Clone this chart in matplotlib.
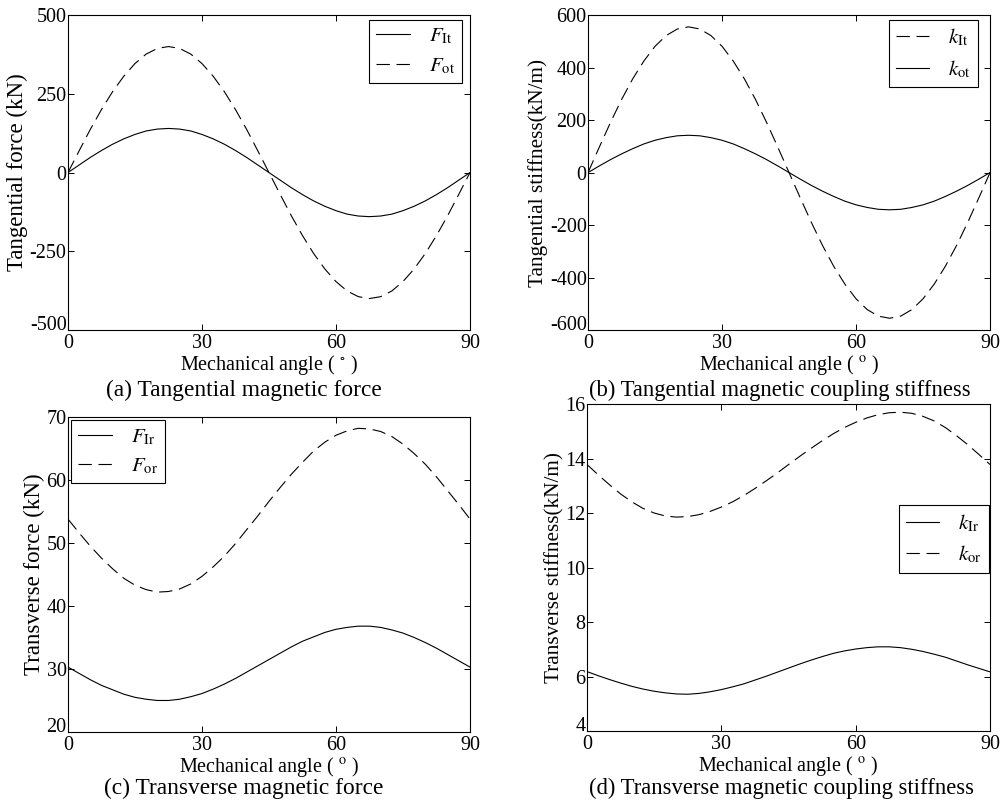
import matplotlib.pyplot as plt
import matplotlib.transforms as mtransforms
import numpy as np

plt.rcParams['font.family'] = ['Liberation Serif', 'DejaVu Serif']
plt.rcParams['mathtext.fontset'] = 'stix'
plt.rcParams['axes.unicode_minus'] = False

# mechanical angle samples (deg), every 2.5 deg
angle = np.arange(0, 90.1, 2.5)

# (a) tangential magnetic force, kN
F_It = [0, 24, 48, 70, 90, 107, 121, 132, 138, 140, 138, 132, 121, 107, 90, 70, 48, 24, 0,
        -24, -48, -70, -90, -107, -121, -132, -138, -140, -138, -132, -121, -107, -90, -70, -48, -24, 0]
F_ot = [0, 69, 137, 200, 257, 306, 346, 376, 394, 400, 394, 376, 346, 306, 257, 200, 137, 69, 0,
        -69, -137, -200, -257, -306, -346, -376, -394, -400, -394, -376, -346, -306, -257, -200, -137, -69, 0]

# (b) tangential magnetic coupling stiffness, kN/m
k_It = [0, 96, 190, 278, 357, 425, 481, 522, 547, 555, 547, 522, 481, 425, 357, 278, 190, 96, 0,
        -96, -190, -278, -357, -425, -481, -522, -547, -555, -547, -522, -481, -425, -357, -278, -190, -96, 0]
k_ot = [0, 25, 49, 71, 91, 109, 123, 133, 140, 142, 140, 133, 123, 109, 91, 71, 49, 25, 0,
        -25, -49, -71, -91, -109, -123, -133, -140, -142, -140, -133, -123, -109, -91, -71, -49, -25, 0]

# (c) transverse magnetic force, kN
F_Ir = [30.3, 29.3, 28.3, 27.4, 26.7, 26.0, 25.5, 25.2, 25.0, 25.0, 25.2, 25.6, 26.1, 26.8, 27.6, 28.5,
        29.5, 30.5, 31.5, 32.5, 33.5, 34.4, 35.1, 35.8, 36.3, 36.6, 36.8, 36.8, 36.6, 36.2, 35.7, 35.0,
        34.2, 33.3, 32.3, 31.3, 30.3]
F_or = [53.8, 51.6, 49.5, 47.6, 45.9, 44.4, 43.3, 42.6, 42.2, 42.3, 42.7, 43.5, 44.7, 46.2, 47.9, 49.9,
        52.1, 54.3, 56.6, 58.8, 60.9, 62.8, 64.6, 66.0, 67.1, 67.8, 68.2, 68.1, 67.7, 66.9, 65.7, 64.2,
        62.5, 60.5, 58.3, 56.1, 53.8]

# (d) transverse magnetic coupling stiffness, kN/m
k_Ir = [6.18, 6.03, 5.89, 5.76, 5.64, 5.54, 5.46, 5.40, 5.36, 5.35, 5.38, 5.44, 5.52, 5.62, 5.73, 5.87,
        6.01, 6.16, 6.31, 6.46, 6.60, 6.73, 6.85, 6.94, 7.01, 7.06, 7.09, 7.09, 7.06, 7.00, 6.92, 6.82,
        6.71, 6.57, 6.43, 6.30, 6.17]
k_or = [13.78, 13.40, 13.04, 12.70, 12.41, 12.17, 12.00, 11.89, 11.85, 11.87, 11.94, 12.06, 12.22,
        12.41, 12.64, 12.90, 13.18, 13.47, 13.78, 14.08, 14.37, 14.65, 14.91, 15.14, 15.33, 15.49,
        15.61, 15.68, 15.70, 15.66, 15.55, 15.38, 15.14, 14.84, 14.51, 14.15, 13.78]

dash = (0, (12, 6))
lw = 0.8

fig = plt.figure(figsize=(10.04, 8.05), dpi=100)
ax_a = fig.add_axes([0.0677, 0.590, 0.4004, 0.3913])
ax_b = fig.add_axes([0.5857, 0.590, 0.4004, 0.3913])
ax_c = fig.add_axes([0.0677, 0.0907, 0.4004, 0.3913])
ax_d = fig.add_axes([0.5847, 0.0919, 0.4014, 0.4062])

# small upward nudge for the lowest y tick label so it clears the x "0"
nudge = mtransforms.ScaledTranslation(0, 5 / 72, fig.dpi_scale_trans)


def style(ax, yticks, ylabel, ysize, deg):
    ax.set_xlim(0, 90)
    ax.set_xticks([0, 30, 60, 90])
    ax.set_ylim(yticks[0], yticks[-1])
    ax.set_yticks(yticks)
    ax.tick_params(direction='in', top=True, right=True, length=4, width=0.7, labelsize=14.5, pad=1)
    ax.tick_params(axis='x', pad=3)
    for s in ax.spines.values():
        s.set_linewidth(0.8)
    ax.set_ylabel(ylabel, fontsize=ysize, labelpad=1)
    ax.set_xlabel('Mechanical angle ( ' + deg + ' )', fontsize=14.5, labelpad=0)
    low = ax.get_yticklabels()[0]
    low.set_transform(low.get_transform() + nudge)


def legend(ax, **kw):
    leg = ax.legend(fontsize=15, frameon=True, fancybox=False, framealpha=1,
                    edgecolor='black', handlelength=1.6, borderpad=0.35,
                    labelspacing=0.45, handletextpad=0.9, borderaxespad=0, **kw)
    leg.get_frame().set_linewidth(0.8)


# (a)
ax_a.plot(angle, F_It, color='black', lw=lw, label=r'$F_{\rm It}$')
ax_a.plot(angle, F_ot, color='black', lw=lw, ls=dash, label=r'$F_{\rm ot}$')
style(ax_a, [-500, -250, 0, 250, 500], 'Tangential force (kN)', 16.5, r'$^{\circ}$')
legend(ax_a, loc='upper right', bbox_to_anchor=(0.98, 0.985))

# (b)
ax_b.plot(angle, k_It, color='black', lw=lw, ls=dash, label=r'$k_{\rm It}$')
ax_b.plot(angle, k_ot, color='black', lw=lw, label=r'$k_{\rm ot}$')
style(ax_b, [-600, -400, -200, 0, 200, 400, 600], 'Tangential stiffness(kN/m)', 15.3, r'$^{\rm o}$')
legend(ax_b, loc='upper right', bbox_to_anchor=(0.97, 0.985))

# (c)
ax_c.plot(angle, F_Ir, color='black', lw=lw, label=r'$F_{\rm Ir}$')
ax_c.plot(angle, F_or, color='black', lw=lw, ls=dash, label=r'$F_{\rm or}$')
style(ax_c, [20, 30, 40, 50, 60, 70], 'Transverse force (kN)', 16.5, r'$^{\rm o}$')
legend(ax_c, loc='upper left', bbox_to_anchor=(0.008, 0.99))

# (d)
ax_d.plot(angle, k_Ir, color='black', lw=lw, label=r'$k_{\rm Ir}$')
ax_d.plot(angle, k_or, color='black', lw=lw, ls=dash, label=r'$k_{\rm or}$')
style(ax_d, [4, 6, 8, 10, 12, 14, 16], 'Transverse stiffness(kN/m)', 15.3, r'$^{\rm o}$')
legend(ax_d, loc='upper right', bbox_to_anchor=(0.997, 0.69))

# captions
fig.text(0.243, 0.5155, '(a) Tangential magnetic force', ha='center', va='center', fontsize=16.8)
fig.text(0.777, 0.5155, '(b) Tangential magnetic coupling stiffness', ha='center', va='center', fontsize=16.3)
fig.text(0.243, 0.021, '(c) Transverse magnetic force', ha='center', va='center', fontsize=16.8)
fig.text(0.778, 0.021, '(d) Transverse magnetic coupling stiffness', ha='center', va='center', fontsize=16.3)

fig.savefig('out.png', dpi=100)
